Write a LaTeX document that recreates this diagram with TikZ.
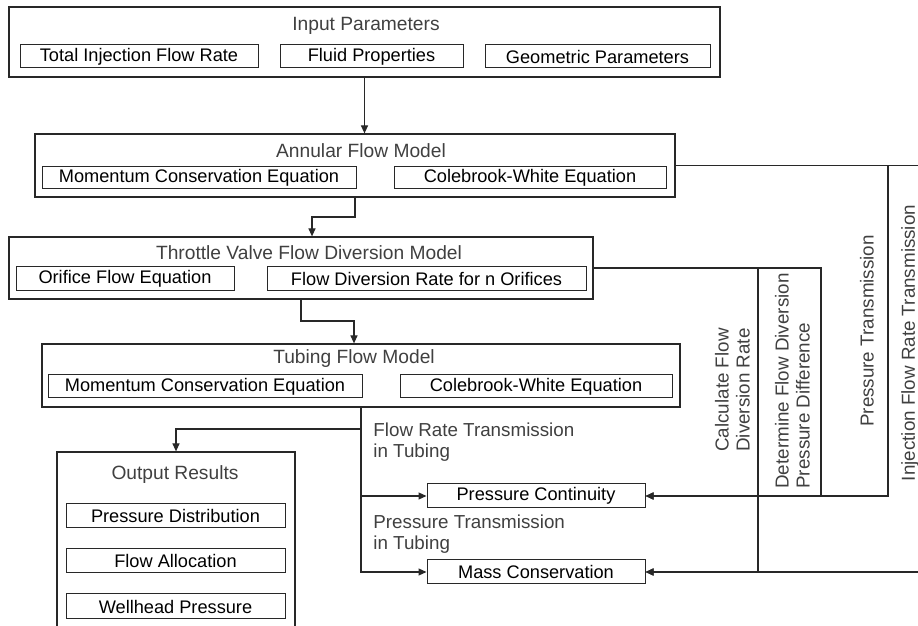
\documentclass[tikz,border=0pt]{standalone}
\usepackage{fontspec}
\setmainfont{Liberation Sans}
\usetikzlibrary{arrows.meta}
\definecolor{linegray}{RGB}{40,40,40}
\definecolor{labelgray}{RGB}{64,64,64}
\begin{document}
\begin{tikzpicture}[x=0.5pt, y=-0.5pt,
  modelbox/.style={draw=linegray, line width=0.6pt, inner sep=0pt},
  partbox/.style={draw=linegray, line width=0.5pt, inner sep=0pt, font=\fontsize{9.1}{10.5}\selectfont},
  boxtitle/.style={inner sep=0pt, text=labelgray, font=\fontsize{9.6}{10.5}\selectfont},
  sidenote/.style={inner sep=0pt, text=labelgray, align=left, font=\fontsize{9.4}{10.5}\selectfont},
  flowarrow/.style={draw=linegray, line width=0.6pt, -{Triangle[length=4pt,width=3.5pt]}},
  feedback/.style={draw=linegray, line width=0.75pt, -{Triangle[length=4pt,width=3.5pt]}}]
\useasboundingbox (0,0) rectangle (918,626);
\clip (0,0) rectangle (918,626);
\node[modelbox, minimum width=355.5pt, minimum height=35pt] (input) at (364.5,42){};
\node[boxtitle] (inputT) at (366,26){Input Parameters};
\node[partbox, minimum width=119pt, minimum height=11.5pt] (tifr) at (139,56.5){Total Injection Flow Rate};
\node[partbox, minimum width=91.5pt, minimum height=11.5pt] (fluid) at (371.5,56.5){Fluid Properties};
\node[partbox, minimum width=112.5pt, minimum height=11.5pt] (geom) at (597.5,56.5){Geometric Parameters};
\node[modelbox, minimum width=320pt, minimum height=31.5pt] (annular) at (355,165.5){};
\node[boxtitle] (annularT) at (361,151){Annular Flow Model};
\node[partbox, minimum width=157pt, minimum height=11pt] (annMom) at (199,178){Momentum Conservation Equation};
\node[partbox, minimum width=136pt, minimum height=11pt] (annCol) at (530,178){Colebrook-White Equation};
\node[modelbox, minimum width=292pt, minimum height=31pt] (throttle) at (301,268){};
\node[boxtitle] (throttleT) at (309,253){Throttle Valve Flow Diversion Model};
\node[partbox, minimum width=109pt, minimum height=12pt] (orifice) at (125,279){Orifice Flow Equation};
\node[partbox, minimum width=159.5pt, minimum height=12pt] (divrate) at (426.5,279){Flow Diversion Rate for n Orifices};
\node[modelbox, minimum width=319pt, minimum height=31.5pt] (tubing) at (361,375.5){};
\node[boxtitle] (tubingT) at (354,359){Tubing Flow Model};
\node[partbox, minimum width=157pt, minimum height=11.5pt] (tubMom) at (205,386.5){Momentum Conservation Equation};
\node[partbox, minimum width=136pt, minimum height=11.5pt] (tubCol) at (536,386.5){Colebrook-White Equation};
\node[modelbox, minimum width=119pt, minimum height=94pt] (output) at (176,546){};
\node[boxtitle] (outputT) at (175,475){Output Results};
\node[partbox, minimum width=109.5pt, minimum height=12pt] (pdist) at (175.5,516){Pressure Distribution};
\node[partbox, minimum width=109.5pt, minimum height=12pt] (falloc) at (175.5,561){Flow Allocation};
\node[partbox, minimum width=109.5pt, minimum height=12.5pt] (whp) at (175.5,606.5){Wellhead Pressure};
\node[partbox, minimum width=109pt, minimum height=12pt] (pcont) at (536,496){Pressure Continuity};
\node[partbox, minimum width=109pt, minimum height=12pt] (mcons) at (536,572){Mass Conservation};
\node[sidenote, anchor=west] (frt) at (373,442.5){Flow Rate Transmission\\in Tubing};
\node[sidenote, anchor=west] (prt) at (373,534){Pressure Transmission\\in Tubing};
\node[sidenote, rotate=90, align=center] (calc) at (732.5,390){Calculate Flow\\Diversion Rate};
\node[sidenote, rotate=90] (determ) at (792.5,381){Determine Flow Diversion\\Pressure Difference};
\node[sidenote, rotate=90] (ptrans) at (867,331){Pressure Transmission};
\node[sidenote, rotate=90] (itrans) at (910,343){Injection Flow Rate Transmission};
\coordinate (bend1) at (312,217);
\coordinate (bend2) at (354,321);
\coordinate (split) at (361,429);
\coordinate (colC) at (758,0);
\coordinate (colD) at (821,0);
\coordinate (colP) at (888,0);
\coordinate (colI) at (940,0);
\draw[flowarrow] (input.south) -- (input.south |- annular.north);
\draw[flowarrow] (annular.south) |- (bend1) -- (bend1 |- throttle.north);
\draw[flowarrow] (throttle.south) |- (bend2) -- (bend2 |- tubing.north);
\draw[flowarrow] (tubing.south) |- (mcons.west);
\draw[flowarrow] (tubing.south |- pcont.west) -- (pcont.west);
\draw[flowarrow] (split) -| (output.north);
\draw[feedback] (annular.east) -| (colP |- pcont.east) -- (pcont.east);
\draw[feedback] (annular.east) -| (colI |- mcons.east) -- (mcons.east);
\draw[feedback] (throttle.east) -| (colD |- pcont.east) -- (pcont.east);
\draw[feedback] (throttle.east) -| (colC |- mcons.east) -- (mcons.east);
\end{tikzpicture}
\end{document}
